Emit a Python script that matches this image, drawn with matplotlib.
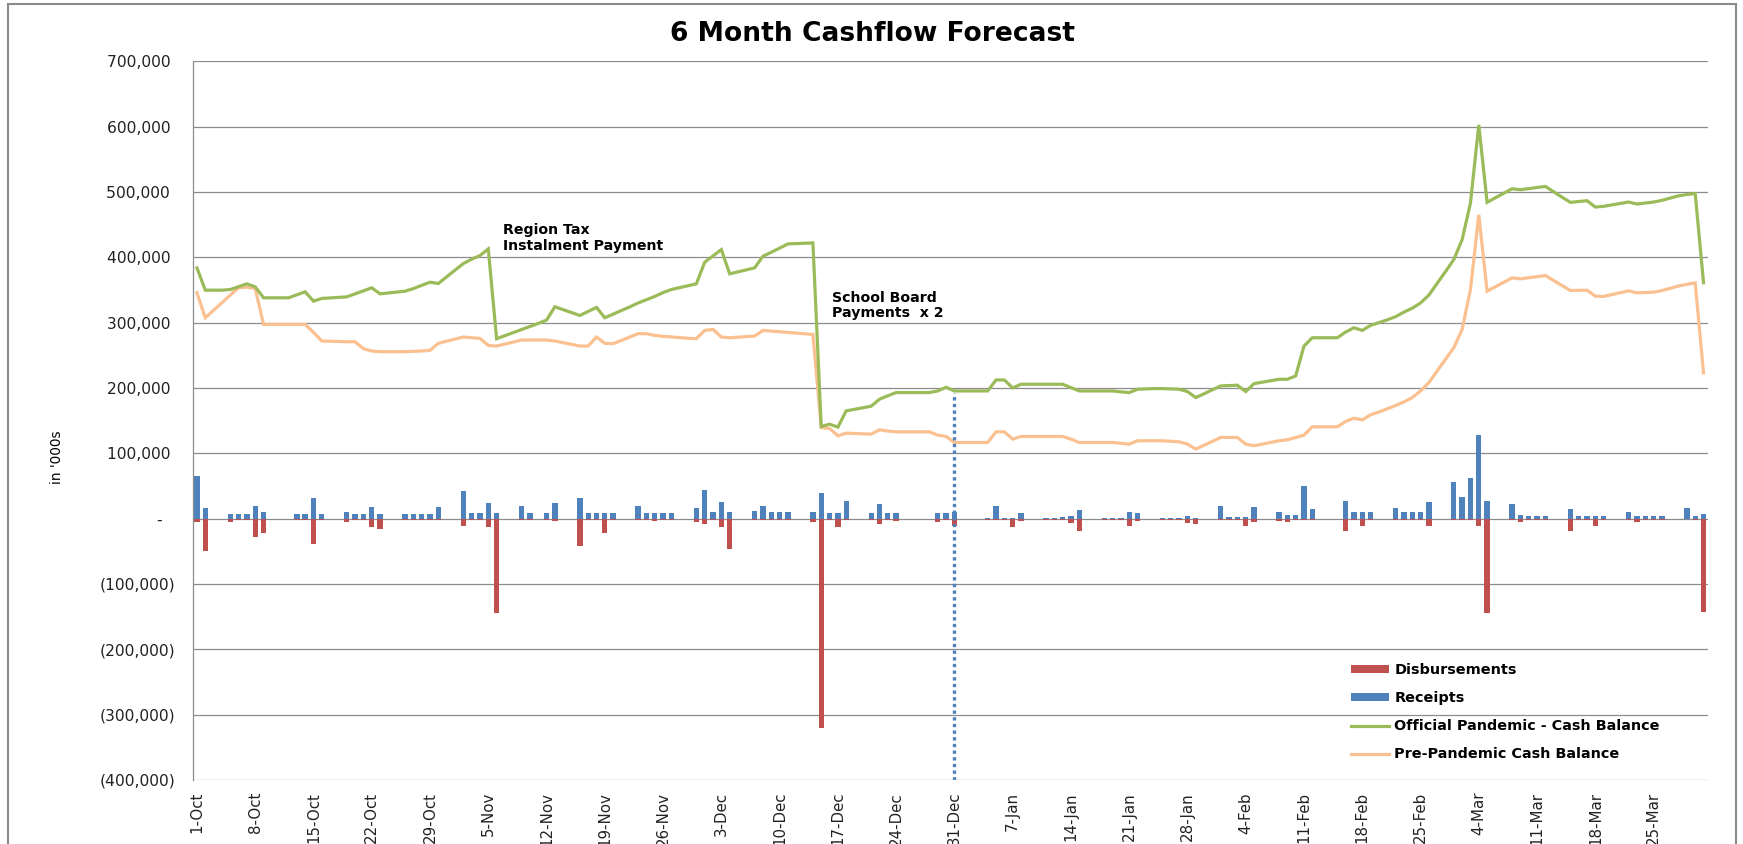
import numpy as np
import matplotlib
matplotlib.use("Agg")
import matplotlib.pyplot as plt
from matplotlib.patches import Rectangle, Patch
from matplotlib.lines import Line2D

plt.rcParams['font.family'] = ['DejaVu Sans']

# ---------------- data (values in the chart's units, thousands) ----------------
title = "6 Month Cashflow Forecast"
y_label = "in '000s"

x_tick_labels = ["1-Oct", "8-Oct", "15-Oct", "22-Oct", "29-Oct", "5-Nov", "12-Nov",
                 "19-Nov", "26-Nov", "3-Dec", "10-Dec", "17-Dec", "24-Dec", "31-Dec",
                 "7-Jan", "14-Jan", "21-Jan", "28-Jan", "4-Feb", "11-Feb", "18-Feb",
                 "25-Feb", "4-Mar", "11-Mar", "18-Mar", "25-Mar"]
tick_every = 7

y_ticks = [-400, -300, -200, -100, 0, 100, 200, 300, 400, 500, 600, 700]
y_tick_labels = ["(400,000)", "(300,000)", "(200,000)", "(100,000)", "-\u2002 ",
                 "100,000 ", "200,000 ", "300,000 ", "400,000 ", "500,000 ",
                 "600,000 ", "700,000 "]

receipts = [
    65.6, 16.3, 0, 0, 7.1, 7.1, 7.1,
    19.8, 10.7, 0, 0, 0, 7.1, 7.1,
    31, 7.1, 0, 0, 10.2, 7.1, 7.1,
    17.3, 7.1, 0, 0, 7.1, 7.1, 7.1,
    7.1, 17.3, 0, 0, 42.2, 8.7, 8.7,
    23.9, 8.7, 0, 0, 19.8, 8.7, 0,
    8.7, 23.9, 0, 0, 31, 8.7, 8.7,
    8.7, 8.7, 0, 0, 18.8, 8.7, 8.7,
    8.7, 8.7, 0, 0, 16.3, 43.8, 10.7,
    25.4, 9.7, 0, 0, 11.7, 19.3, 9.7,
    9.7, 9.7, 0, 0, 9.7, 39.2, 8.7,
    8.7, 26.5, 0, 0, 8.7, 22.4, 8.7,
    8.7, 0, 0, 0, 0, 8.7, 8.7,
    9.7, 0, 0, 0, 0.5, 18.8, 0.5,
    0.5, 8.7, 0, 0, 0.3, 0.3, 2,
    3.6, 13.7, 0, 0, 0.3, 0.3, 0.3,
    10.2, 8.7, 0, 0, 0.3, 0.3, 0.3,
    3.6, 1.5, 0, 0, 19.3, 2.5, 2.5,
    2, 17.3, 0, 0, 9.7, 6.1, 6.1,
    49.4, 15.3, 0, 0, 0, 27, 9.7,
    10.7, 9.7, 0, 0, 16.3, 9.7, 9.7,
    10.7, 24.9, 0, 0, 55.5, 33.6, 62.1,
    128.2, 27.5, 0, 0, 22.9, 5.6, 3.6,
    3.6, 3.6, 0, 0, 14.8, 3.6, 3.6,
    3.6, 3.6, 0, 0, 9.7, 3.6, 3.6,
    3.6, 4, 0, 0, 17, 3.6, 6.7,
]

disbursements = [
    -4.6, -48.9, 0, 0, -4.6, -1.5, -1.5,
    -27.5, -21.9, 0, 0, 0, -1.5, -1.5,
    -39.2, -1.5, 0, 0, -4.6, -1.5, -1.5,
    -12.7, -15.3, 0, 0, -1.5, -1.5, -1.5,
    -1.5, -1.5, 0, 0, -11.7, -1.5, -1.5,
    -13.2, -145, 0, 0, -1.5, -1.5, 0,
    -1.5, -3, 0, 0, -42.2, -1.5, -1.5,
    -21.9, -1.5, 0, 0, -1.5, -1.5, -4,
    -1.5, -1.5, 0, 0, -4.6, -8.1, -1.5,
    -13.2, -46.3, 0, 0, -1.5, -1.5, -1.5,
    -1.5, -1.5, 0, 0, -5, -320, -1.5,
    -13.2, -1.5, 0, 0, -1.5, -8.1, -1.5,
    -4, 0, 0, 0, 0, -5, -1.5,
    -11.7, 0, 0, 0, -1.5, -1.5, -1.5,
    -12.2, -3, 0, 0, -2, -2, -1.5,
    -6.1, -18.3, 0, 0, -2, -2, -2,
    -11.7, -3, 0, 0, -2, -2, -2,
    -6.1, -8.1, 0, 0, -1.5, -1.5, -1.5,
    -11.7, -4.6, 0, 0, -3, -4.6, -1.5,
    -1.5, -1.5, 0, 0, 0, -18.8, -1.5,
    -11.7, -1.5, 0, 0, -2.5, -1.5, -1.5,
    -1.5, -10.7, 0, 0, -1.5, -1.5, -1.5,
    -11.7, -144.6, 0, 0, -1.5, -4.6, -1.5,
    -1.5, -1.5, 0, 0, -18.3, -1.5, -1.5,
    -11.7, -2.5, 0, 0, -1.5, -5, -1.5,
    -1.5, -1.5, 0, 0, -1, -1.5, -143.6,
]

official_balance = [
    383.7, 349.6, 349.6, 349.6, 350.6, 355, 359.3,
    354.7, 337.9, 337.9, 337.9, 337.9, 342.5, 347.1,
    332.8, 336.9, 337.7, 338.5, 339.4, 344, 348.6,
    353.2, 344, 345.3, 346.6, 348, 352, 357,
    361.8, 359.8, 370, 380, 390.3, 397, 402.5,
    412.7, 275.3, 280, 284.7, 289.4, 294, 298.7,
    303.8, 324.2, 319.8, 315.3, 310.9, 317, 323.2,
    307.4, 313, 318.5, 324, 330, 335, 340,
    346, 350.6, 353.5, 356.5, 359.3, 392.4, 402,
    411.7, 374.6, 377.6, 380.6, 383.7, 401.5, 407.6,
    414, 420.4, 420.9, 421.4, 421.9, 141, 144.5,
    140, 164.9, 167.3, 169.7, 172, 182.7, 188,
    192.9, 192.9, 192.9, 192.9, 192.9, 195.4, 201,
    195.4, 195.4, 195.4, 195.4, 195.4, 212.2, 212.2,
    200, 205.6, 205.6, 205.6, 205.6, 205.6, 205.6,
    200.5, 195.4, 195.4, 195.4, 195.4, 195.4, 194,
    192.9, 198, 198.5, 199, 199, 198.5, 198,
    194.4, 185.2, 191.2, 197.2, 203.1, 203.6, 204.1,
    194.4, 206.6, 208.8, 211, 213.2, 213.2, 218.3,
    264.1, 276.8, 276.8, 276.8, 276.8, 285.5, 292.1,
    288, 295.7, 300, 304.2, 309, 316, 322,
    330, 342, 360, 378, 396.4, 427, 483,
    602.5, 484, 491, 498, 504.8, 503.3, 505,
    506.7, 508.4, 500, 492, 484, 485.2, 486.5,
    476.8, 477.9, 480.1, 482.3, 484.5, 481.4, 483,
    484.5, 487, 490.5, 494, 496, 497.5, 361,
]

pre_pandemic_balance = [
    345.5, 307.4, 319, 330.5, 342, 353.2, 354.2,
    352.2, 297.2, 297.2, 297.2, 297.2, 297.2, 297.2,
    285, 271.8, 271.4, 271, 270.7, 270.7, 260,
    256.5, 255.5, 255.5, 255.5, 255.5, 256, 256.5,
    257.5, 268.2, 271.5, 274.8, 277.9, 276.8, 275.8,
    265.1, 264.1, 267.2, 270.2, 273.3, 273.3, 273.3,
    273.3, 271.8, 269.2, 266.7, 264.1, 264.1, 277.9,
    268.2, 267.7, 272.8, 278, 283, 283, 280.4,
    279, 278, 277, 276, 275.3, 288, 289.6,
    277.9, 276.8, 277.7, 278.5, 279.4, 288, 287,
    286, 285, 284, 283, 281.9, 139.4, 137.9,
    126.7, 130.8, 130.3, 129.8, 129.3, 135.9, 134,
    132.8, 132.8, 132.8, 132.8, 132.8, 127.7, 125.7,
    116.5, 116.5, 116.5, 116.5, 116.5, 132.8, 132.8,
    121.6, 125.7, 125.7, 125.7, 125.7, 125.7, 125.7,
    121.6, 116.5, 116.5, 116.5, 116.5, 116.5, 115.3,
    114, 119.1, 119.1, 119.1, 119.1, 118.3, 117.6,
    114, 106.4, 112.3, 118.3, 124.2, 124.2, 124.2,
    114, 111.5, 114, 116.6, 119.1, 120.6, 124.2,
    127.7, 140.5, 140.5, 140.5, 140.5, 148.6, 153.7,
    151.1, 158.8, 163.2, 168, 173, 178.6, 185.2,
    195.4, 208.1, 226, 244, 261.6, 289.6, 350.6,
    465.1, 348.1, 354.9, 361.6, 368.4, 366.9, 368.6,
    370.3, 372, 364.4, 356.8, 349.1, 349.4, 349.6,
    340.5, 340, 342.9, 345.7, 348.6, 345.5, 346,
    346.5, 349, 352.5, 356, 358.5, 360.7, 223,
]

series_names = ["Disbursements", "Receipts",
                "Official Pandemic - Cash Balance", "Pre-Pandemic Cash Balance"]

notes = ["Region Tax\nInstalment Payment", "School Board\nPayments  x 2"]
note_day = [36.8, 76.3]
note_value = [429, 326]

cutoff_day = 91       # 31-Dec
cutoff_top = 192

# ---------------- style ----------------
RED = "#C0504D"
BLUE = "#4F81BD"
GREEN = "#9BBB59"
ORANGE = "#FAC090"
GRID = "#8C8C8C"
K = 1000

fig = plt.figure(figsize=(17.43, 8.44), dpi=100)
ax = fig.add_axes([0.11061, 0.07583, 0.86913, 0.85166])

x = np.arange(len(receipts))
ax.bar(x, np.array(receipts) * K, width=0.64, color=BLUE, zorder=2)
ax.bar(x, np.array(disbursements) * K, width=0.64, color=RED, zorder=2)
ax.plot(x, np.array(official_balance) * K, color=GREEN, lw=2.3, zorder=4,
        solid_joinstyle='miter')
ax.plot(x, np.array(pre_pandemic_balance) * K, color=ORANGE, lw=2.3, zorder=3,
        solid_joinstyle='miter')

ax.plot([cutoff_day, cutoff_day], [y_ticks[0] * K, cutoff_top * K], color=BLUE,
        lw=2.4, linestyle=(0, (1, 1)), zorder=5)

for txt, dx, dy in zip(notes, note_day, note_value):
    ax.text(dx, dy * K, txt, ha='left', va='center', fontsize=10.2,
            fontweight='bold', linespacing=1.15, color='black', zorder=6)

ax.set_xlim(-0.5, len(receipts) - 0.5)
ax.set_ylim(y_ticks[0] * K, y_ticks[-1] * K)
ax.set_yticks(np.array(y_ticks) * K)
ax.set_yticklabels(y_tick_labels)
ax.set_xticks(np.arange(0, len(receipts), tick_every)[:len(x_tick_labels)])
ax.set_xticklabels(x_tick_labels, rotation=90)
ax.tick_params(axis='y', length=0, pad=12.8, labelsize=11.2, labelcolor='#222222')
ax.tick_params(axis='x', length=0, pad=8.6, labelsize=10.8, labelcolor='#222222')

ax.yaxis.grid(True, color=GRID, lw=0.9, zorder=0)
ax.set_axisbelow(True)
for s in ['top', 'right', 'bottom']:
    ax.spines[s].set_visible(False)
ax.spines['left'].set_color(GRID)
ax.spines['left'].set_linewidth(0.9)

fig.text(872.6 / 1743, 1 - 34.3 / 844, title, ha='center', va='center',
         fontsize=19.1, fontweight='bold')
fig.text(57.4 / 1743, 1 - 456.7 / 844, y_label, rotation=90, ha='center',
         va='center', fontsize=9.8)

handles = [Patch(facecolor=RED), Patch(facecolor=BLUE),
           Line2D([], [], color=GREEN, lw=2.3), Line2D([], [], color=ORANGE, lw=2.3)]
leg = ax.legend(handles, series_names, loc='center left',
                bbox_to_anchor=(1351 / 1743, 1 - 712.2 / 844),
                bbox_transform=fig.transFigure, frameon=False, borderpad=0,
                borderaxespad=0, handlelength=2.64, handleheight=0.5,
                handletextpad=0.35, labelspacing=0.98,
                prop={'weight': 'bold', 'size': 10.4})

fig.patches.append(Rectangle((8.4 / 1743, -0.05), (1736 - 8.4) / 1743, 1.05 - 4 / 844,
                             transform=fig.transFigure, fill=False,
                             edgecolor='#8A8A8A', lw=1.5))

fig.savefig("out.png", dpi=100)
